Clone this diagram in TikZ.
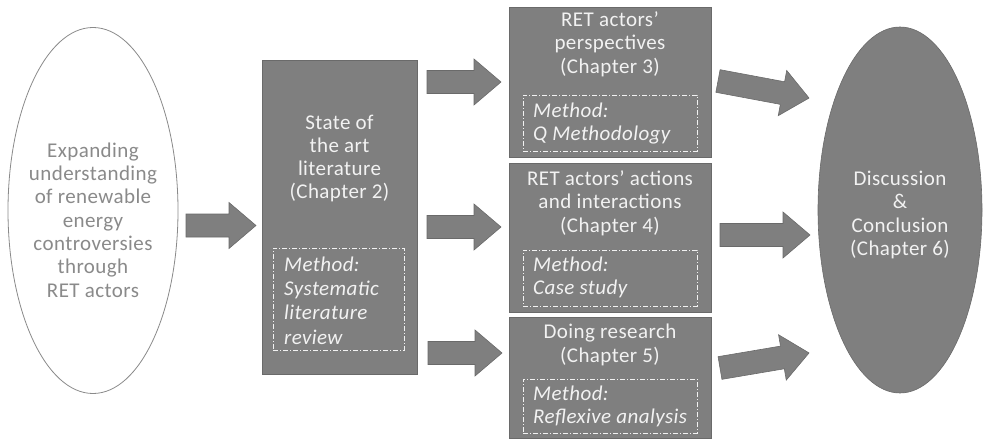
\documentclass[tikz,border=0pt]{standalone}
\usepackage{fontspec}
\setmainfont{Carlito}[LetterSpace=2]
\usetikzlibrary{shapes.geometric}

\definecolor{boxgray}{HTML}{7F7F7F}
\definecolor{edgegray}{HTML}{6A6A6A}
\definecolor{softwhite}{HTML}{F2F2F2}
\definecolor{inkgray}{HTML}{8A8A8A}

\tikzset{
  panel/.style={draw=edgegray, line width=0.6pt, fill=boxgray, inner sep=0pt},
  paneltext/.style={text=softwhite, align=center, inner sep=0pt,
    font=\fontsize{21}{23.3}\selectfont},
  methodbox/.style={draw=softwhite, line width=0.8pt,
    dash pattern=on 5pt off 2pt on 1pt off 2pt, inner sep=0pt},
  methodtext/.style={text=softwhite, align=left, anchor=west, inner sep=0pt,
    font=\fontsize{21}{23.5}\selectfont\itshape},
  blockarrow/.style={fill=boxgray, draw=edgegray, line width=0.6pt, line join=miter},
}

% block arrow: tail point, direction angle, overall length
\newcommand{\fatarrow}[3]{%
  \begin{scope}[shift={#1}, rotate=#2]
    \filldraw[blockarrow] (0,-11.5) -- ({#3-27},-11.5) -- ({#3-27},-23) -- (#3,0)
      -- ({#3-27},23) -- ({#3-27},11.5) -- (0,11.5) -- cycle;
  \end{scope}}

\begin{document}
\begin{tikzpicture}[x=1pt, y=-1pt]
  \useasboundingbox (0,0) rectangle (983,441);

  % starting point
  \node[ellipse, draw=inkgray, line width=0.8pt, fill=white, inner sep=0pt,
        minimum width=170, minimum height=366] (src) at (93,210.5) {};
  \node[text=inkgray, align=center, inner sep=0pt,
        font=\fontsize{21}{23.3}\selectfont] (srctext) at (93,220)
    {Expanding\\understanding\\of renewable\\energy\\controversies\\through\\RET actors};

  % chapter 2
  \node[panel, minimum width=155, minimum height=314] (state) at (339.5,217) {};
  \node[paneltext] (statetext) at (339.5,158.5) {State of\\the art\\literature\\(Chapter 2)};
  \node[methodbox, minimum width=131, minimum height=102] (m2) at (338.5,299) {};
  \node[methodtext, font=\fontsize{21}{24.3}\selectfont\itshape] (m2text) at (284,300.5)
    {Method:\\Systematic\\literature\\review};

  % chapter 3
  \node[panel, minimum width=202, minimum height=150] (p3) at (610,82) {};
  \node[paneltext] (p3text) at (610,44) {RET actors’\\perspectives\\(Chapter 3)};
  \node[methodbox, minimum width=174, minimum height=56] (m3) at (610,123) {};
  \node[methodtext] (m3text) at (533,123.5) {Method:\\Q Methodology};

  % chapter 4
  \node[panel, minimum width=202, minimum height=149] (p4) at (610,237.5) {};
  \node[paneltext] (p4text) at (610,203) {RET actors’ actions\\and interactions\\(Chapter 4)};
  \node[methodbox, minimum width=174, minimum height=56] (m4) at (610,278) {};
  \node[methodtext] (m4text) at (533,277.5) {Method:\\Case study};

  % chapter 5
  \node[panel, minimum width=202, minimum height=121] (p5) at (610,377.5) {};
  \node[paneltext] (p5text) at (610,345) {Doing research\\(Chapter 5)};
  \node[methodbox, minimum width=174, minimum height=54] (m5) at (610,406) {};
  \node[methodtext] (m5text) at (533,406.5) {Method:\\Reflexive analysis};

  % chapter 6
  \node[ellipse, fill=boxgray, draw=edgegray, line width=0.6pt, inner sep=0pt,
        minimum width=164, minimum height=366] (disc) at (900,210) {};
  \node[paneltext] (disctext) at (900,215) {Discussion\\\&\\Conclusion\\(Chapter 6)};

  % flow arrows
  \fatarrow{(186,225.5)}{0}{70}
  \fatarrow{(427,82)}{0}{74}
  \fatarrow{(427,227)}{0}{74}
  \fatarrow{(428,353)}{0}{74}
  \fatarrow{(718,81)}{-10.6}{92.6}
  \fatarrow{(720,235)}{0}{90}
  \fatarrow{(720,368)}{9.6}{90.3}
\end{tikzpicture}
\end{document}
